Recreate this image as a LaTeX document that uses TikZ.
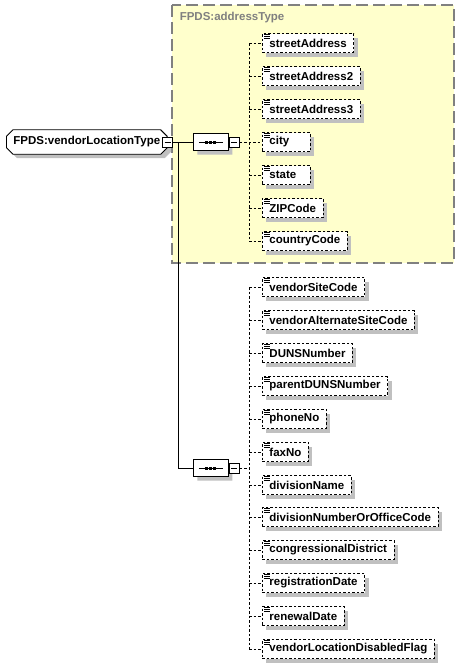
\documentclass[tikz,border=0pt]{standalone}
\usepackage{fontspec}
\setmainfont{Liberation Sans}
\usetikzlibrary{shapes.misc, shadows}
\definecolor{grpfill}{HTML}{FFFFCC}
\definecolor{grpline}{HTML}{808080}
\definecolor{shadowgray}{HTML}{C0C0C0}

\begin{document}
\begin{tikzpicture}[x=1pt, y=-1pt, line width=0.9pt,
  every node/.style={font=\bfseries\fontsize{11.5}{13}\selectfont},
  dropsh/.style={drop shadow={shadow xshift=4pt, shadow yshift=-4pt,
      fill=shadowgray, opacity=1}},
  elem/.style={draw, dash pattern=on 2.5pt off 2pt, fill=white, anchor=west,
      minimum height=19pt, inner xsep=7pt, inner ysep=0pt,
      dropsh, path picture={
        \foreach \dy in {0.5,2.5,4.5}
          \draw[solid, black, line width=0.8pt]
            ([xshift=2pt, yshift=-\dy*1pt]path picture bounding box.north west)
            -- ++(6pt,0pt);}},
  shortelem/.style={elem, text width=34pt},
  rootbox/.style={chamfered rectangle, chamfered rectangle xsep=3pt, draw,
      fill=white, anchor=west, minimum height=19pt, inner xsep=4pt, dropsh},
  seqbox/.style={chamfered rectangle, chamfered rectangle xsep=5pt, draw,
      fill=white, anchor=west, minimum width=35pt, minimum height=17pt,
      inner sep=0pt, dropsh, path picture={
        \draw[black, line width=1pt] ([xshift=-12pt]path picture bounding box.center)
           -- ([xshift=12pt]path picture bounding box.center);
        \foreach \dx in {-4,0,4}
          \fill[black] ([xshift=\dx*1pt-1.5pt, yshift=-1.5pt]path picture bounding box.center)
            rectangle ++(3pt,3pt);}},
  minusbox/.style={draw, fill=white, minimum size=10pt, inner sep=0pt,
      path picture={
        \draw[black] ([xshift=-3pt]path picture bounding box.center)
           -- ([xshift=3pt]path picture bounding box.center);}},
  dashline/.style={dash pattern=on 2.5pt off 2pt},
  grpbox/.style={draw=grpline, fill=grpfill, line width=1.2pt,
      dash pattern=on 12pt off 5pt}]
  \useasboundingbox (0,0) rectangle (460,665);
  % address type group (background)
  \draw[grpbox] (172,5) rectangle (454,263);
  \node[anchor=west, text=grpline] (grpTitle) at (176,18) {FPDS:addressType};
  % root type + first sequence
  \node[rootbox] (root) at (6,142) {FPDS:vendorLocationType};
  \node[minusbox] (mRoot) at (root.east) {};
  \node[seqbox] (sqA) at (193,142) {};
  \node[minusbox, anchor=west] (mA) at (sqA.east) {};
  % second sequence
  \node[seqbox] (sqB) at (193,468) {};
  \node[minusbox, anchor=west] (mB) at (sqB.east) {};
  % address elements
  \node[elem] (streetAddress) at (262,43) {streetAddress};
  \node[elem] (streetAddress2) at (262,76) {streetAddress2};
  \node[elem] (streetAddress3) at (262,109) {streetAddress3};
  \node[shortelem] (city) at (262,142) {city};
  \node[shortelem] (state) at (262,175) {state};
  \node[elem] (ZIPCode) at (262,208) {ZIPCode};
  \node[elem] (countryCode) at (262,241) {countryCode};
  % vendor location elements
  \node[elem] (vendorSiteCode) at (262,287) {vendorSiteCode};
  \node[elem] (vendorAltSite) at (262,320) {vendorAlternateSiteCode};
  \node[elem] (DUNSNumber) at (262,353) {DUNSNumber};
  \node[elem] (parentDUNS) at (262,386) {parentDUNSNumber};
  \node[elem] (phoneNo) at (262,419) {phoneNo};
  \node[elem] (faxNo) at (262,452) {faxNo};
  \node[elem] (divisionName) at (262,485) {divisionName};
  \node[elem] (divisionNumber) at (262,517) {divisionNumberOrOfficeCode};
  \node[elem] (congressional) at (262,550) {congressionalDistrict};
  \node[elem] (registrationDate) at (262,583) {registrationDate};
  \node[elem] (renewalDate) at (262,616) {renewalDate};
  \node[elem] (disabledFlag) at (262,649) {vendorLocationDisabledFlag};
  % root connectors
  \coordinate (fork) at (178,142);
  \draw (mRoot.east) -- (sqA.west);
  \draw (fork) |- (sqB.west);
  % address tree
  \coordinate (trunkA) at (249,142);
  \draw[dashline] (mA.east) -- (city.west);
  \draw[dashline] (trunkA |- streetAddress.west) -- (trunkA |- countryCode.west);
  \draw[dashline] (trunkA |- streetAddress.west) -- (streetAddress.west);
  \draw[dashline] (trunkA |- streetAddress2.west) -- (streetAddress2.west);
  \draw[dashline] (trunkA |- streetAddress3.west) -- (streetAddress3.west);
  \draw[dashline] (trunkA |- state.west) -- (state.west);
  \draw[dashline] (trunkA |- ZIPCode.west) -- (ZIPCode.west);
  \draw[dashline] (trunkA |- countryCode.west) -- (countryCode.west);
  % vendor location tree
  \coordinate (trunkB) at (249,468);
  \draw[dashline] (mB.east) -- (trunkB);
  \draw[dashline] (trunkB |- vendorSiteCode.west) -- (trunkB |- disabledFlag.west);
  \draw[dashline] (trunkB |- vendorSiteCode.west) -- (vendorSiteCode.west);
  \draw[dashline] (trunkB |- vendorAltSite.west) -- (vendorAltSite.west);
  \draw[dashline] (trunkB |- DUNSNumber.west) -- (DUNSNumber.west);
  \draw[dashline] (trunkB |- parentDUNS.west) -- (parentDUNS.west);
  \draw[dashline] (trunkB |- phoneNo.west) -- (phoneNo.west);
  \draw[dashline] (trunkB |- faxNo.west) -- (faxNo.west);
  \draw[dashline] (trunkB |- divisionName.west) -- (divisionName.west);
  \draw[dashline] (trunkB |- divisionNumber.west) -- (divisionNumber.west);
  \draw[dashline] (trunkB |- congressional.west) -- (congressional.west);
  \draw[dashline] (trunkB |- registrationDate.west) -- (registrationDate.west);
  \draw[dashline] (trunkB |- renewalDate.west) -- (renewalDate.west);
  \draw[dashline] (trunkB |- disabledFlag.west) -- (disabledFlag.west);
\end{tikzpicture}
\end{document}
